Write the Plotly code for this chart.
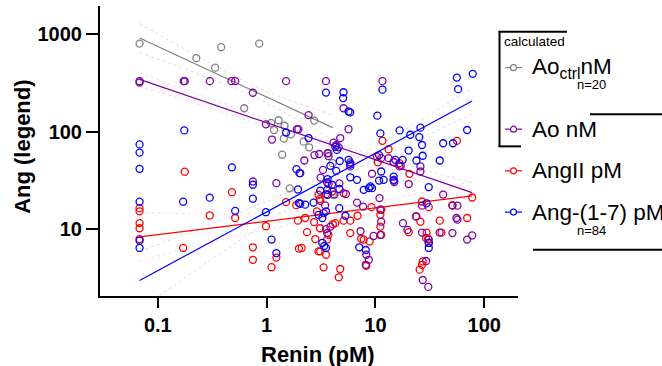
import plotly.graph_objects as go

# ---------------- data ----------------
ctrl_renin = [0.068, 0.226, 0.382, 0.855, 0.336, 0.622, 1.10, 1.29, 1.46, 1.44,
              1.67, 2.19, 2.46, 2.74, 1.39, 3.71, 4.04, 1.63, 4.07, 1.17]
ctrl_ao = [801, 568, 736, 801, 454, 174, 123, 131, 115, 85,
           94, 79, 69, 130, 58, 60, 47.5, 26.2, 22.6, 104]

ao_renin = [0.068, 0.068, 0.173, 0.177, 0.301, 0.475, 0.514, 1.51, 0.748, 0.986,
            1.12, 1.9, 0.748, 1.23, 2.0, 2.43, 1.96, 4.12, 4.38, 4.6,
            2.22, 2.75, 3.04, 3.63, 3.71, 3.3, 3.13, 4.66, 3.71, 4.2,
            5.66, 3.51, 11.6, 5.09, 4.75, 5.87, 5.87, 9.3, 11.3, 13.2,
            14.7, 16.6, 14.7, 20.2, 25.9, 25.9, 41.9, 17.1, 26.8, 51,
            56.7, 23.8, 55.5, 56.7, 17.9, 26.8, 38.9, 51, 69.6, 77.4,
            30.9, 29.2, 27.2, 30.6, 5.35, 14.9, 3.6, 3.45, 3.34, 3.51,
            3.6, 3.85, 6.77, 7.7, 9.6, 10.9, 11.1, 11.3, 11.1, 7.3,
            8.24, 8.7, 8.15, 19.7]
ao_val = [330, 320, 330, 330, 330, 330, 330, 330, 251, 119,
          83, 106, 30.8, 29.6, 37.5, 148, 106, 77, 73, 69,
          50.6, 57.5, 59, 60, 56, 40.5, 33.7, 29.5, 29, 22.6,
          106, 330, 330, 174, 86, 48.4, 44, 37, 53.5, 53.5,
          48.9, 44, 32, 29, 44, 39, 22.6, 44.6, 17.4, 17.4,
          17.4, 13.5, 13.0, 12.5, 11.5, 9.2, 9.2, 9.1, 7.8, 8.6,
          7.8, 4.7, 3.0, 2.55, 22.9, 30.4, 30.1, 17.5, 14.6, 10.0,
          9.1, 10.6, 18.7, 17.0, 8.5, 20.8, 15.8, 11.9, 8.7, 9.5,
          5.45, 4.84, 4.3, 9.8]

ang2_renin = [0.068, 0.068, 0.068, 0.068, 0.068, 0.177, 0.171, 0.30, 0.48, 0.514,
              0.748, 0.748, 0.986, 1.11, 1.23, 1.51, 1.87, 1.94, 1.98, 11.6,
              13.2, 10.3, 14.7, 16.6, 20.5, 56, 5.09, 3.51, 3.07, 77.4,
              26.8, 30.9, 51, 39, 69.6, 23.5, 25.9, 20.2, 29.5, 40.4,
              30.5, 27.2, 25.5, 26.8, 2.26, 2.73, 2.35, 2.8, 3.34, 3.11,
              3.51, 3.7, 3.6, 4.06, 4.28, 5.09, 5.87, 6.85, 5.87, 4.75,
              4.6, 7.4, 7.8, 8.85, 8.24, 9.2, 11.3, 11.1, 11.1, 11.3,
              29.2, 30.9, 3.0, 3.11, 4.0, 10.5, 2.9, 3.1, 2.1, 3.0]
ang2_val = [16.4, 15.2, 11.5, 10.2, 7.9, 38.8, 6.4, 13.8, 23.9, 13.0,
            6.5, 4.84, 10.7, 4.06, 5.1, 18.9, 17.6, 12.2, 6.3, 80.5,
            66, 55.6, 48.6, 47.5, 36.9, 80.5, 23.4, 22.8, 20.3, 21.1,
            19.2, 16.8, 17.6, 12.2, 13.0, 13.5, 11.9, 9.3, 9.2, 9.2,
            7.9, 4.65, 3.83, 4.3, 13.0, 11.8, 9.3, 7.9, 4.05, 5.9,
            5.45, 8.74, 7.8, 11.2, 11.5, 12.2, 12.2, 13.7, 9.1, 3.89,
            3.2, 7.95, 7.8, 7.46, 4.2, 16.8, 15.8, 14.0, 10.6, 8.7,
            8.1, 7.2, 22.5, 19.5, 24.3, 48.5, 15.2, 10.2, 6.4, 5.9]

ang17_renin = [0.068, 0.068, 0.068, 0.068, 0.068, 0.068, 0.175, 0.171, 0.48, 0.30,
               0.514, 0.748, 0.748, 0.986, 1.11, 1.23, 1.88, 1.94, 1.98, 1.51,
               3.51, 5.05, 5.66, 2.43, 4.28, 4.43, 4.7, 5.66, 3.85, 4.36,
               2.04, 3.63, 3.99, 3.11, 3.6, 3.63, 4.66, 5.09, 5.87, 10.4,
               11.6, 56, 78.4, 57.5, 69.6, 41.9, 51.6, 25.9, 20.9, 25.3,
               16.7, 11.1, 20.2, 26.8, 27.2, 23.8, 39, 15.2, 17.8, 10.8,
               11.3, 11.9, 10.8, 14.7, 14.7, 30.9, 5.87, 6.77, 7.8, 8.7,
               9.3, 5.87, 29.5, 30.9, 30.9, 2.04, 2.26, 2.7, 3.0, 3.25,
               3.51, 4.65, 5.3, 3.25, 3.38, 3.51, 7.1, 8.15, 9.0]
ang17_val = [74, 61, 41.5, 19.1, 7.6, 6.4, 103, 19.1, 43, 21,
             15.4, 28.5, 20.5, 14.9, 7.8, 5.67, 41.2, 25.5, 18.5, 98,
             252, 221, 161, 86, 70, 65, 50, 51.4, 44.6, 39.6,
             37.5, 32.6, 28.5, 24.8, 25.3, 22.5, 25.8, 254, 158, 146,
             270, 359, 392, 273, 104, 76, 76, 110, 93, 88,
             103, 96, 64, 73, 56.6, 50.6, 50.6, 51.4, 51.4, 57.5,
             39, 32, 31.5, 34.6, 31.5, 27, 34, 32, 25.3, 26.3,
             26.3, 46, 18.4, 6.4, 7.2, 18.2, 17.8, 18.7, 14, 13,
             15.2, 16.4, 13.7, 7.2, 6.7, 6.4, 6.5, 6.1, 27.4]

# regression lines (end points)
ctrl_fit_x = [0.068, 4.04]
ctrl_fit_y = [914, 110]
fit_x = [0.068, 77.4]
ao_fit_y = [344, 23.7]
ang2_fit_y = [8.3, 21.9]
ang17_fit_y = [2.97, 206]

# 95% confidence bands
ctrl_band_x = [0.068, 0.3, 1, 4.04]
ctrl_band_hi = [1290, 510, 260, 149]
ctrl_band_lo = [647, 353, 197, 82]
band_x = [0.068, 0.5, 3, 16, 77.4]
ao_band_hi = [402, 179, 87, 48, 30]
ao_band_lo = [293, 145, 76, 38.5, 18.8]
ang2_band_hi = [14.8, 14.4, 15.7, 21.1, 30.9]
ang2_band_lo = [4.7, 8.3, 12.5, 14.6, 15.5]
ang17_band_hi = [5.9, 14, 33.3, 95, 278]
ang17_band_lo = [1.49, 7, 25.3, 66, 152]

x_ticks = [0.1, 1, 10, 100]
x_ticktext = ["0.1", "1", "10", "100"]
y_ticks = [10, 100, 1000]
y_ticktext = ["10", "100", "1000"]

GRAY = "#808080"
PURPLE = "#8000a0"
RED = "#ff0000"
BLUE = "#0000ff"
BAND = {GRAY: "rgba(128,128,128,0.28)", PURPLE: "rgba(128,0,160,0.16)",
        RED: "rgba(255,0,0,0.16)", BLUE: "rgba(0,0,255,0.16)"}

FONT = "Arial, Liberation Sans, sans-serif"

fig = go.Figure()


def add_series(xs, ys, color, fx, fy, bx, bhi, blo):
    for b in (bhi, blo):
        fig.add_trace(go.Scatter(x=bx, y=b, mode="lines", line_shape="spline",
                                 line=dict(color=BAND[color], width=1, dash="dot"),
                                 hoverinfo="skip", showlegend=False))
    fig.add_trace(go.Scatter(x=xs, y=ys, mode="markers",
                             marker=dict(symbol="circle-open", size=7, color=color,
                                         line=dict(width=1.3, color=color)),
                             showlegend=False))
    fig.add_trace(go.Scatter(x=fx, y=fy, mode="lines",
                             line=dict(color=color, width=1.2), showlegend=False))


add_series(ctrl_renin, ctrl_ao, GRAY, ctrl_fit_x, ctrl_fit_y, ctrl_band_x, ctrl_band_hi, ctrl_band_lo)
add_series(ang2_renin, ang2_val, RED, fit_x, ang2_fit_y, band_x, ang2_band_hi, ang2_band_lo)
add_series(ao_renin, ao_val, PURPLE, fit_x, ao_fit_y, band_x, ao_band_hi, ao_band_lo)
add_series(ang17_renin, ang17_val, BLUE, fit_x, ang17_fit_y, band_x, ang17_band_hi, ang17_band_lo)

# ---------------- layout helpers (pixel -> paper) ----------------
L, R, T, B = 100, 518, 6, 296.3
W, H = 662, 366


def px(xp):
    return (xp - L) / (R - L)


def py(yp):
    return (B - yp) / (B - T)


shapes = []
def hline(x0, x1, y, w=2):
    shapes.append(dict(type="line", xref="paper", yref="paper", x0=px(x0), x1=px(x1),
                       y0=py(y), y1=py(y), line=dict(color="black", width=w)))
def vline(x, y0, y1, w=2):
    shapes.append(dict(type="line", xref="paper", yref="paper", x0=px(x), x1=px(x),
                       y0=py(y0), y1=py(y1), line=dict(color="black", width=w)))

# legend bracket and separators
vline(499.5, 31, 147)
hline(498.5, 567, 31.7)
hline(498.5, 521, 146.5)
hline(590, 670, 114.3)
hline(533, 670, 250)

annotations = []
legend_rows = [(GRAY, 67.7, "Ao<sub>ctrl</sub>nM"), (PURPLE, 129.3, "Ao nM"),
               (RED, 171, "AngII pM"), (BLUE, 212.3, "Ang-(1-7) pM")]
for color, yrow, label in legend_rows:
    shapes.append(dict(type="line", xref="paper", yref="paper", x0=px(505), x1=px(522),
                       y0=py(yrow), y1=py(yrow), line=dict(color=color, width=1.2)))
    shapes.append(dict(type="circle", xref="paper", yref="paper",
                       x0=px(510.5), x1=px(516.5), y0=py(yrow + 3), y1=py(yrow - 3),
                       line=dict(color=color, width=1.2), fillcolor="white"))
    annotations.append(dict(xref="paper", yref="paper", x=px(530), y=py(yrow),
                            xanchor="left", yanchor="middle", showarrow=False,
                            text=label, font=dict(family=FONT, size=22.5, color="black")))

annotations.append(dict(xref="paper", yref="paper", x=px(502), y=py(42),
                        xanchor="left", yanchor="middle", showarrow=False,
                        text="calculated", font=dict(family=FONT, size=13.5, color="black")))
for yy, t in [(85, "n=20"), (231, "n=84")]:
    annotations.append(dict(xref="paper", yref="paper", x=px(591.7), y=py(yy),
                            xanchor="center", yanchor="middle", showarrow=False,
                            text=t, font=dict(family=FONT, size=13, color="black")))

# axis titles
annotations.append(dict(xref="paper", yref="paper", x=px(318), y=py(354.5),
                        xanchor="center", yanchor="middle", showarrow=False,
                        text="Renin (pM)",
                        font=dict(family=FONT, size=22, color="black", weight="bold")))
annotations.append(dict(xref="paper", yref="paper", x=px(23), y=py(147),
                        xanchor="center", yanchor="middle", showarrow=False, textangle=-90,
                        text="Ang (legend)",
                        font=dict(family=FONT, size=22, color="black", weight="bold")))

fig.update_layout(
    width=W, height=H,
    margin=dict(l=L, r=W - R, t=T, b=H - B, pad=0),
    paper_bgcolor="white", plot_bgcolor="white",
    showlegend=False,
    shapes=shapes, annotations=annotations,
    xaxis=dict(type="log", range=[-1.531, 2.31], showgrid=False, zeroline=False,
               showline=True, linecolor="black", linewidth=2,
               ticks="outside", ticklen=10, tickwidth=2, tickcolor="black",
               tickvals=x_ticks, ticktext=x_ticktext,
               tickfont=dict(family=FONT, size=20, color="black", weight="bold")),
    yaxis=dict(type="log", range=[0.313, 3.29], showgrid=False, zeroline=False,
               showline=True, linecolor="black", linewidth=2,
               ticks="outside", ticklen=12, tickwidth=2, tickcolor="black",
               tickvals=y_ticks, ticktext=y_ticktext,
               tickfont=dict(family=FONT, size=20, color="black", weight="bold")),
)

fig.write_html("out.html")
